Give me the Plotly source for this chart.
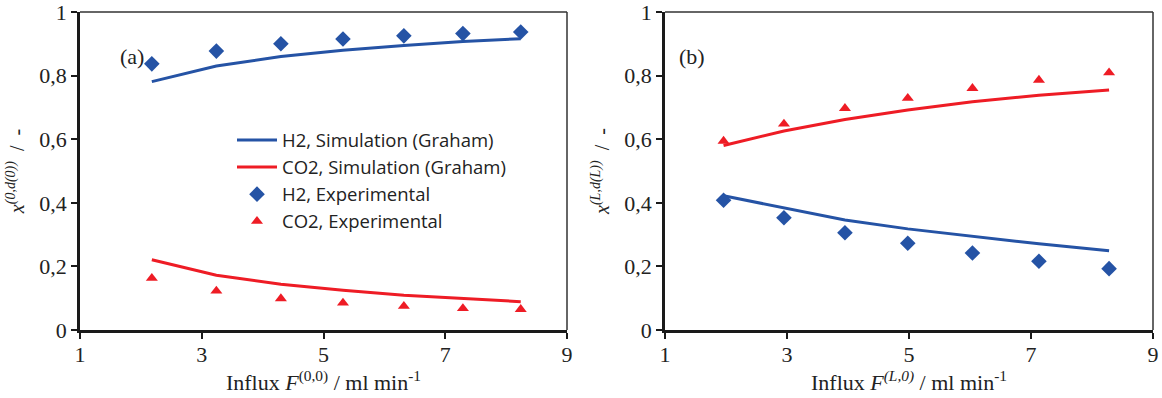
import plotly.graph_objects as go

# ---- data ----
xa = [2.18, 3.24, 4.30, 5.32, 6.32, 7.29, 8.24]
a_h2_sim = [0.781, 0.830, 0.860, 0.880, 0.895, 0.907, 0.916]
a_co2_sim = [0.221, 0.172, 0.144, 0.125, 0.109, 0.098, 0.089]
a_h2_exp = [0.837, 0.877, 0.900, 0.915, 0.925, 0.932, 0.937]
a_co2_exp = [0.163, 0.123, 0.099, 0.085, 0.075, 0.068, 0.065]

xb = [1.96, 2.95, 3.95, 4.98, 6.04, 7.13, 8.28]
b_h2_sim = [0.422, 0.384, 0.346, 0.318, 0.294, 0.271, 0.249]
b_co2_sim = [0.580, 0.626, 0.662, 0.692, 0.718, 0.738, 0.755]
b_h2_exp = [0.408, 0.353, 0.306, 0.273, 0.242, 0.216, 0.193]
b_co2_exp = [0.594, 0.648, 0.697, 0.729, 0.760, 0.786, 0.809]

names = ["H2, Simulation (Graham)", "CO2, Simulation (Graham)",
         "H2, Experimental", "CO2, Experimental"]
x_ticks = [1, 3, 5, 7, 9]
y_ticks = [0, 0.2, 0.4, 0.6, 0.8, 1]

BLUE = "#2553A5"
RED = "#EE1C25"
SERIF = "Liberation Serif"
TXT = "#222"

fig = go.Figure()

def add_panel(x, h2s, co2s, h2e, co2e, xa_, ya_, show):
    fig.add_trace(go.Scatter(x=x, y=h2s, mode="lines", name=names[0],
                             line=dict(color=BLUE, width=3), xaxis=xa_, yaxis=ya_, showlegend=show))
    fig.add_trace(go.Scatter(x=x, y=co2s, mode="lines", name=names[1],
                             line=dict(color=RED, width=3), xaxis=xa_, yaxis=ya_, showlegend=show))
    fig.add_trace(go.Scatter(x=x, y=h2e, mode="markers", name=names[2],
                             marker=dict(symbol="diamond", size=12, color=BLUE),
                             xaxis=xa_, yaxis=ya_, showlegend=show))
    fig.add_trace(go.Scatter(x=x, y=co2e, mode="markers", name=names[3],
                             marker=dict(symbol="triangle-up", size=10.5, color=RED),
                             xaxis=xa_, yaxis=ya_, showlegend=show))

add_panel(xa, a_h2_sim, a_co2_sim, a_h2_exp, a_co2_exp, "x", "y", True)
add_panel(xb, b_h2_sim, b_co2_sim, b_h2_exp, b_co2_exp, "x2", "y2", False)

W, H = 1162, 398
ydom = [1 - 330 / H, 1 - 12 / H]
axis_common = dict(showgrid=False, zeroline=False, showline=True, linecolor="#1a1a1a",
                   linewidth=2.5, ticks="outside", ticklen=6, tickwidth=2, tickcolor="#1a1a1a",
                   automargin=False, ticklabeloverflow="allow",
                   tickfont=dict(family=SERIF, size=22, color=TXT))

fig.update_layout(
    width=W, height=H, margin=dict(l=0, r=0, t=0, b=0, autoexpand=False),
    paper_bgcolor="white", plot_bgcolor="white",
    separators=", ",
    xaxis=dict(domain=[80 / W, 567 / W], range=[1, 9], tickvals=x_ticks, anchor="y",
               ticklabelstandoff=-3,
               title=dict(text="Influx <i>F</i><sup>(0,0)</sup> / ml min<sup>-1</sup>",
                          font=dict(family=SERIF, size=22, color=TXT), standoff=4),
               **axis_common),
    yaxis=dict(domain=ydom, range=[0, 1], tickvals=y_ticks, anchor="x",
               title=dict(text="<i>x</i><sup><i>(0,d(0))</i></sup>  /  -",
                          font=dict(family=SERIF, size=20, color=TXT), standoff=10),
               **axis_common),
    xaxis2=dict(domain=[665 / W, 1153 / W], range=[1, 9], tickvals=x_ticks, anchor="y2",
                ticklabelstandoff=-3,
                title=dict(text="Influx <i>F</i><sup><i>(L,0)</i></sup> / ml min<sup>-1</sup>",
                           font=dict(family=SERIF, size=22, color=TXT), standoff=4),
                **axis_common),
    yaxis2=dict(domain=ydom, range=[0, 1], tickvals=y_ticks, anchor="x2",
                title=dict(text="<i>x</i><sup><i>(L,d(L))</i></sup>  /  -",
                           font=dict(family=SERIF, size=20, color=TXT), standoff=10),
                **axis_common),
    legend=dict(x=232 / W, y=1 - 121.5 / H, xanchor="left", yanchor="top",
                bgcolor="rgba(0,0,0,0)", font=dict(family="Open Sans", size=18.5, color=TXT),
                tracegroupgap=0, itemwidth=40),
    annotations=[
        dict(text="(a)", x=118 / W, y=1 - 42 / H, xref="paper", yref="paper", showarrow=False,
             font=dict(family=SERIF, size=22, color=TXT)),
        dict(text="(b)", x=692 / W, y=1 - 42 / H, xref="paper", yref="paper", showarrow=False,
             font=dict(family=SERIF, size=22, color=TXT)),
    ],
)

# thin top/right frame lines
for xr, yr in [("x domain", "y domain"), ("x2 domain", "y2 domain")]:
    fig.add_shape(type="line", xref=xr, yref=yr, x0=0, x1=1, y0=1, y1=1,
                  line=dict(color="#333", width=1.5))
    fig.add_shape(type="line", xref=xr, yref=yr, x0=1, x1=1, y0=0, y1=1,
                  line=dict(color="#333", width=1.5))

fig.write_html("out.html")
